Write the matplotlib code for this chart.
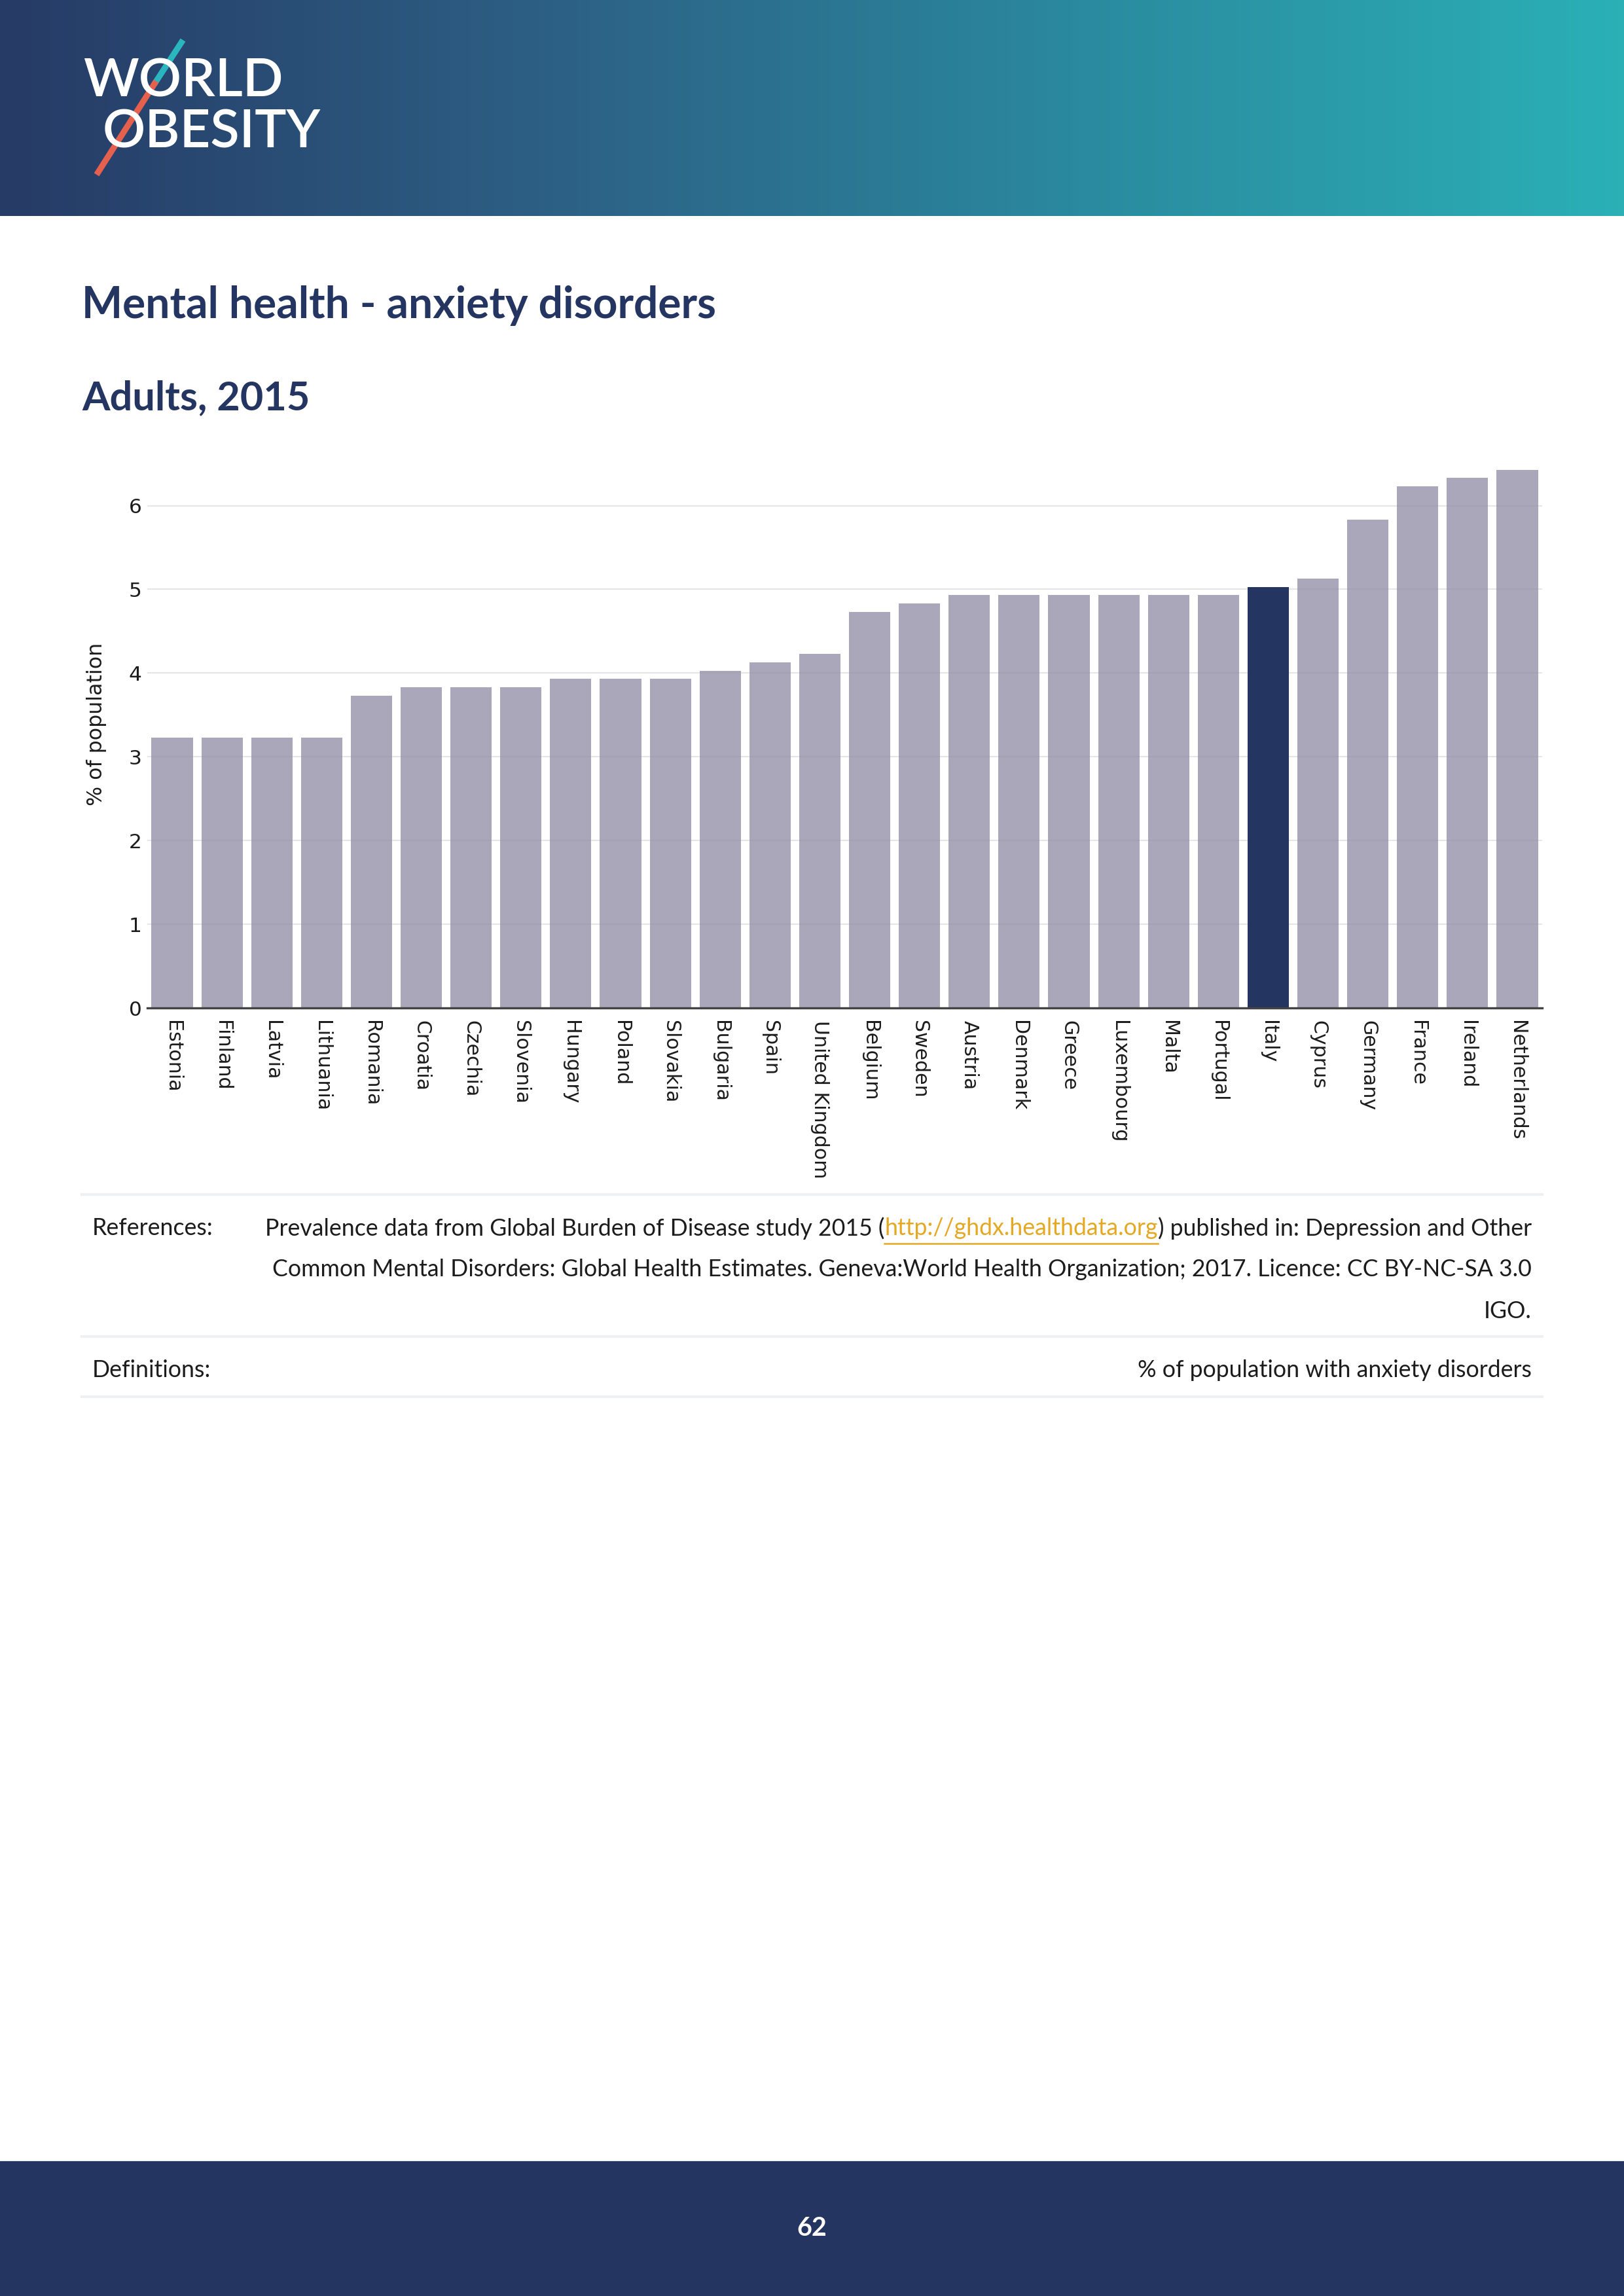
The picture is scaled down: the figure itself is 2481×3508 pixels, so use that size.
import matplotlib
matplotlib.use("Agg")
import matplotlib.pyplot as plt
import numpy as np
from matplotlib.colors import LinearSegmentedColormap
from matplotlib.lines import Line2D
from matplotlib.patches import Rectangle

countries = ["Estonia", "Finland", "Latvia", "Lithuania", "Romania", "Croatia",
             "Czechia", "Slovenia", "Hungary", "Poland", "Slovakia", "Bulgaria",
             "Spain", "United Kingdom", "Belgium", "Sweden", "Austria", "Denmark",
             "Greece", "Luxembourg", "Malta", "Portugal", "Italy", "Cyprus",
             "Germany", "France", "Ireland", "Netherlands"]
values = [3.23, 3.23, 3.23, 3.23, 3.73, 3.83, 3.83, 3.83, 3.93, 3.93, 3.93, 4.03,
          4.13, 4.23, 4.73, 4.83, 4.93, 4.93, 4.93, 4.93, 4.93, 4.93, 5.03, 5.13,
          5.83, 6.23, 6.33, 6.43]
highlight = "Italy"
yticks = [0, 1, 2, 3, 4, 5, 6]

title = "Mental health - anxiety disorders"
subtitle = "Adults, 2015"
ylabel = "% of population"
ref_parts = ["Prevalence data from Global Burden of Disease study 2015 (",
             "http://ghdx.healthdata.org",
             ") published in: Depression and Other"]
ref_line2 = "Common Mental Disorders: Global Health Estimates. Geneva:World Health Organization; 2017. Licence: CC BY-NC-SA 3.0"
ref_line3 = "IGO."
definition = "% of population with anxiety disorders"
page = "62"

W, H = 2481, 3508
navy = "#253561"
gold = "#E5A823"
txt = "#1c1c1c"
font = "Lato"


def fx(x):
    return x / W


def fy(y):
    return 1 - y / H


fig = plt.figure(figsize=(W / 300, H / 300), dpi=300)

# header gradient
ax_h = fig.add_axes([0, fy(330), 1, 330 / H])
cmap = LinearSegmentedColormap.from_list("hdr", ["#263B66", "#2D5F84", "#2A8A9F", "#2BB0B6"])
ax_h.imshow(np.linspace(0, 1, 256).reshape(1, -1), aspect="auto", cmap=cmap,
            extent=[0, 1, 0, 1])
ax_h.set_axis_off()

# logo
fig.text(fx(127), fy(124), "WORLD", color="white", fontsize=19.5, weight="semibold",
         family=font, va="center", ha="left")
fig.text(fx(157), fy(203), "OBESITY", color="white", fontsize=19.5, weight="semibold",
         family=font, va="center", ha="left")
fig.add_artist(Line2D([fx(277), fx(238)], [fy(65), fy(125)], color="#2BB5BE", lw=2.2))
fig.add_artist(Line2D([fx(236), fx(150)], [fy(128), fy(263)], color="#E5604D", lw=2.2))

# titles
fig.text(fx(125), fy(467), title, color=navy, fontsize=15.8, weight="bold",
         family=font, va="center")
fig.text(fx(125), fy(608), subtitle, color=navy, fontsize=14.7, weight="bold",
         family=font, va="center")

# chart
ax = fig.add_axes([fx(225), fy(1540), (2356 - 225) / W, (1540 - 715) / H])
x = np.arange(len(countries))
colors = [navy if c == highlight else "#9591AA" for c in countries]
alphas = [1.0 if c == highlight else 0.8 for c in countries]
bars = ax.bar(x, values, width=0.83, color=colors, zorder=2)
for b, a in zip(bars, alphas):
    b.set_alpha(a)
ax.set_xlim(-0.5, len(countries) - 0.5)
ax.set_ylim(0, 6.45)
ax.set_yticks(yticks)
ax.set_yticklabels([str(t) for t in yticks], fontsize=7.5, color=txt)
ax.set_xticks(x)
ax.set_xticklabels(countries, rotation=270, fontsize=7.2, color=txt, va="top", ha="center")
ax.tick_params(axis="both", length=0)
ax.tick_params(axis="x", pad=4.5)
ax.tick_params(axis="y", pad=2)
ax.yaxis.grid(True, color="#E6E6E6", lw=0.5, zorder=1)
ax.set_axisbelow(True)
for s in ["top", "right", "left"]:
    ax.spines[s].set_visible(False)
ax.spines["bottom"].set_color("#444444")
ax.spines["bottom"].set_linewidth(0.8)
ax.spines["bottom"].set_zorder(3)
ax.set_ylabel(ylabel, fontsize=7.6, color=txt)
ax.yaxis.set_label_coords(-0.029, 0.525)

# reference table
for yy in [1825, 2042, 2134]:
    fig.add_artist(Line2D([fx(125), fx(2356)], [fy(yy), fy(yy)], color="#EEF0F3", lw=1.0))

fs = 8.55
fig.text(fx(141), fy(1877), "References:", fontsize=fs, color=txt, family=font, va="center")
fig.text(fx(141), fy(2094), "Definitions:", fontsize=fs, color=txt, family=font, va="center")

r = fig.canvas.get_renderer()
xr = fx(2340)
t3 = fig.text(xr, fy(1877), ref_parts[2], fontsize=fs, color=txt, family=font,
              va="center", ha="right")
bb3 = t3.get_window_extent(r)
t2 = fig.text(bb3.x0 / W, fy(1877), ref_parts[1], fontsize=fs, color=gold, family=font,
              va="center", ha="right")
bb2 = t2.get_window_extent(r)
t1 = fig.text(bb2.x0 / W, fy(1877), ref_parts[0], fontsize=fs, color=txt, family=font,
              va="center", ha="right")
fig.add_artist(Line2D([bb2.x0 / W, bb2.x1 / W], [fy(1900), fy(1900)], color=gold, lw=0.6))

fig.text(xr, fy(1940), ref_line2, fontsize=fs, color=txt, family=font, va="center", ha="right")
fig.text(xr, fy(2004), ref_line3, fontsize=fs, color=txt, family=font, va="center", ha="right")
fig.text(xr, fy(2094), definition, fontsize=fs, color=txt, family=font, va="center", ha="right")

# footer
fig.add_artist(Rectangle((0, 0), 1, (H - 3304) / H, transform=fig.transFigure,
                         color=navy, zorder=0))
fig.text(0.5, fy(3405), page, color="white", fontsize=9.5, weight="bold",
         family=font, ha="center", va="center")

fig.savefig("out.png", dpi=300)
